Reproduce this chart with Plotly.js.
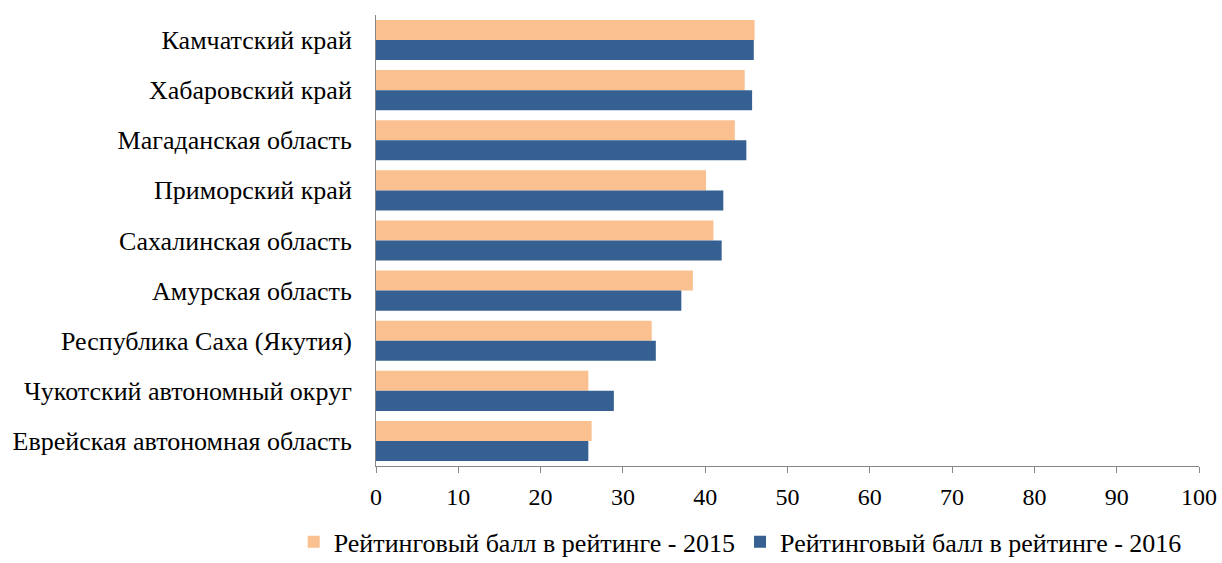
<!DOCTYPE html>
<html>
<head>
<meta charset="utf-8">
<script src="https://cdn.plot.ly/plotly-3.0.1.min.js"></script>
<style>body{margin:0;padding:0;background:#fff;}#chart{width:1222px;height:563px;}</style>
</head>
<body>
<div id="chart"></div>
<script>
const regions = [
  "Камчатский край",
  "Хабаровский край",
  "Магаданская область",
  "Приморский край",
  "Сахалинская область",
  "Амурская область",
  "Республика Саха (Якутия)",
  "Чукотский автономный округ",
  "Еврейская автономная область"
];
const score2015 = [46.0, 44.8, 43.6, 40.1, 41.0, 38.5, 33.5, 25.8, 26.2];
const score2016 = [45.9, 45.7, 45.0, 42.2, 42.0, 37.1, 34.0, 28.9, 25.8];
const seriesNames = ["Рейтинговый балл в рейтинге - 2015", "Рейтинговый балл в рейтинге - 2016"];
const xTicks = [0,10,20,30,40,50,60,70,80,90,100];

const fam = "Liberation Serif, Times New Roman, serif";
const catFont = {family: fam, size: 26, color: "#000"};
const tickFont = {family: fam, size: 24, color: "#000"};

const traces = [
  {type: "bar", orientation: "h", y: regions, x: score2015, name: seriesNames[0],
   marker: {color: "#FAC090", line: {width: 0}}},
  {type: "bar", orientation: "h", y: regions, x: score2016, name: seriesNames[1],
   marker: {color: "#366092", line: {width: 0}}}
];

const layout = {
  width: 1222, height: 563,
  margin: {l: 376, r: 23, t: 15, b: 97, autoexpand: false},
  paper_bgcolor: "#fff", plot_bgcolor: "#fff",
  font: catFont,
  barmode: "group",
  bargap: 0.2, bargroupgap: 0,
  showlegend: true,
  legend: {orientation: "h", x: -0.1, xanchor: "left",
           y: -0.168, yanchor: "middle", font: catFont, itemwidth: 30, tracegroupgap: 0},
  xaxis: {range: [0, 100], tickvals: xTicks, ticktext: xTicks.map(String),
          showgrid: false, zeroline: false, showline: true, linecolor: "#868686", linewidth: 1,
          ticks: "outside", ticklen: 6, tickcolor: "#868686", tickfont: tickFont, ticklabelstandoff: 3,
          fixedrange: true, automargin: false},
  yaxis: {autorange: "reversed", type: "category", showgrid: false, zeroline: false,
          showline: true, linecolor: "#868686", linewidth: 1, ticks: "", tickfont: catFont,
          ticklabelstandoff: 18, fixedrange: true, automargin: false}
};

Plotly.newPlot("chart", traces, layout, {displayModeBar: false, staticPlot: true});
</script>
</body>
</html>
